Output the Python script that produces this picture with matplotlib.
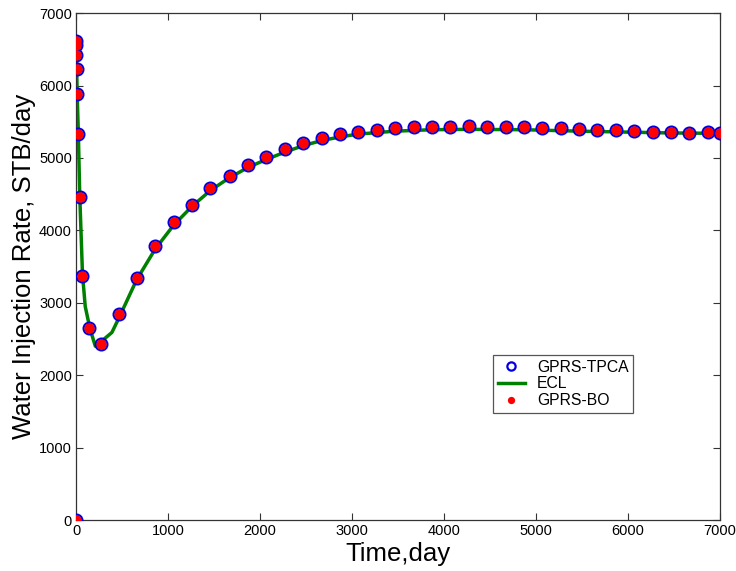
import numpy as np
import matplotlib
matplotlib.use('Agg')
import matplotlib.pyplot as plt

# --- Data ---
# simulated points (GPRS runs), days / STB per day
dias_gprs = [0, 1, 2, 4, 7, 12, 25, 40, 70, 145, 270, 470, 660, 860, 1060, 1260,
             1460, 1670, 1870, 2070, 2270, 2470, 2670, 2870, 3070, 3270, 3470,
             3670, 3870, 4070, 4270, 4470, 4670, 4870, 5070, 5270, 5470, 5670,
             5870, 6070, 6270, 6470, 6670, 6870, 7000]
tasa_tpca = [0, 6614, 6559, 6421, 6224, 5888, 5329, 4455, 3366, 2650, 2429, 2843,
             3339, 3780, 4116, 4354, 4589, 4754, 4906, 5016, 5117, 5205, 5278,
             5337, 5365, 5392, 5411, 5425, 5434, 5434, 5436, 5433, 5429, 5429,
             5416, 5416, 5406, 5392, 5388, 5378, 5365, 5360, 5351, 5356, 5342]
tasa_bo = list(tasa_tpca)

# ECL reference curve
dias_ecl = [0, 5, 12, 25, 40, 70, 100, 150, 210, 260, 390, 470, 660, 860, 1060,
            1260, 1460, 1660, 1870, 2070, 2270, 2470, 2670, 2870, 3070, 3470,
            3870, 4270, 4870, 5470, 6070, 6470, 7000]
tasa_ecl = [6620, 6400, 5900, 5350, 4500, 3400, 2950, 2650, 2400, 2450, 2590,
            2800, 3320, 3740, 4070, 4330, 4550, 4720, 4870, 4980, 5080, 5170,
            5240, 5290, 5330, 5370, 5390, 5395, 5390, 5370, 5355, 5345, 5340]

# --- Plot ---
plt.rcParams['font.family'] = ['Liberation Sans', 'DejaVu Sans']

fig = plt.figure(figsize=(7.36, 5.71), dpi=100)
ax = fig.add_axes([0.1033, 0.0893, 0.8747, 0.8877])

ax.plot(dias_gprs, tasa_tpca, linestyle='none', marker='o', markersize=8.5,
        markerfacecolor='none', markeredgecolor='#0000e0', markeredgewidth=1.6,
        label='GPRS-TPCA', zorder=3)
ax.plot(dias_ecl, tasa_ecl, color='#008000', linewidth=2.5, label='ECL', zorder=2)
ax.plot(dias_gprs, tasa_bo, linestyle='none', marker='o', markersize=7.5,
        markerfacecolor='#ff0000', markeredgecolor='#ff0000', markeredgewidth=0,
        label='GPRS-BO', zorder=4)

ax.set_xlim(0, 7000)
ax.set_ylim(0, 7000)
ax.set_xticks(np.arange(0, 7001, 1000))
ax.set_yticks(np.arange(0, 7001, 1000))
ax.tick_params(direction='in', length=5, width=0.8, top=True, right=True,
               colors='#333333', labelcolor='black', labelsize=10.5, pad=3)
for s in ax.spines.values():
    s.set_color('#333333')
    s.set_linewidth(0.9)

ax.set_xlabel('Time,day', fontsize=18.5, labelpad=3)
ax.set_ylabel('Water Injection Rate, STB/day', fontsize=18.5, labelpad=2)

leg = ax.legend(loc='lower left', bbox_to_anchor=(0.6475, 0.211), borderaxespad=0,
                fontsize=11.3, frameon=True, fancybox=False, framealpha=1,
                edgecolor='#555555', handlelength=1.75, handletextpad=0.75,
                labelspacing=0.12, borderpad=0.3, markerscale=0.7)
leg.get_frame().set_linewidth(0.9)

fig.savefig('out.png', dpi=100)
